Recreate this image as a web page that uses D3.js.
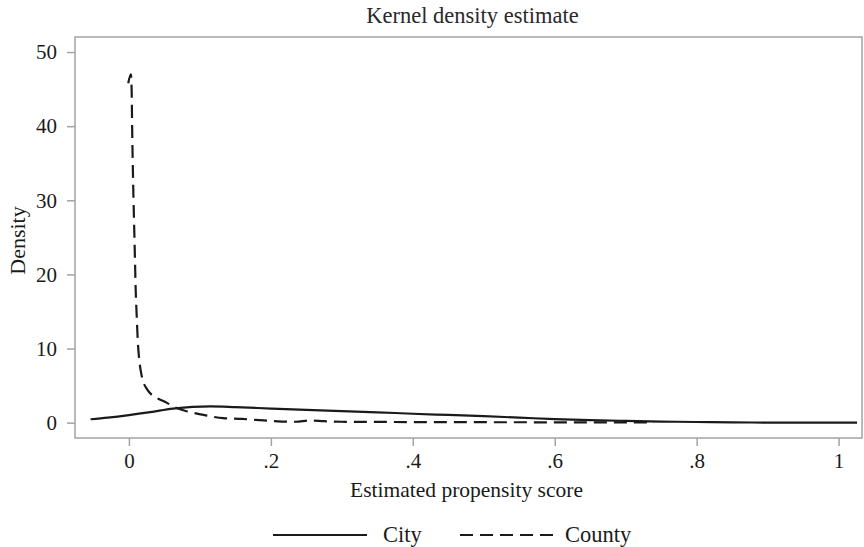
<!DOCTYPE html>
<html>
<head>
<meta charset="utf-8">
<script src="https://cdn.jsdelivr.net/npm/d3@7"></script>
<style>
  body { margin: 0; background: #fff; }
  svg { display: block; font-family: "Liberation Serif", "DejaVu Serif", serif; }
</style>
</head>
<body>
<svg id="chart" width="864" height="547"></svg>
<script>
// kernel density: [score, density]
var cityDensity = [
  [-0.054, 0.46], [-0.03, 0.68], [0.0, 1.02], [0.03, 1.42], [0.062, 1.9],
  [0.09, 2.14], [0.115, 2.2], [0.15, 2.1], [0.2, 1.9], [0.25, 1.72],
  [0.3, 1.56], [0.35, 1.4], [0.4, 1.2], [0.45, 1.04], [0.5, 0.87],
  [0.55, 0.68], [0.6, 0.48], [0.65, 0.33], [0.7, 0.24], [0.75, 0.15],
  [0.8, 0.09], [0.85, 0.04], [0.9, 0.01], [0.95, 0.0], [1.0, 0.0], [1.026, 0.0]
]
var countyDensity = [
  [-0.001, 45.8], [0.0028, 47.0], [0.0038, 45.0], [0.0045, 40], [0.006, 32],
  [0.0075, 26], [0.0085, 22], [0.0095, 18], [0.011, 14.3], [0.0125, 11],
  [0.0145, 8.5], [0.017, 6.8], [0.0202, 5.5], [0.025, 4.6], [0.0296, 4.0],
  [0.04, 3.3], [0.053, 2.7], [0.065, 2.05], [0.079, 1.6], [0.105, 1.05],
  [0.133, 0.6], [0.16, 0.5], [0.19, 0.3], [0.215, 0.15], [0.235, 0.12],
  [0.255, 0.3], [0.275, 0.2], [0.3, 0.12], [0.35, 0.1], [0.4, 0.08],
  [0.5, 0.06], [0.6, 0.05], [0.7, 0.05], [0.74, 0.05]
]
var xTicks = [0, 0.2, 0.4, 0.6, 0.8, 1]
var xTickLabels = ["0", ".2", ".4", ".6", ".8", "1"]
var yTicks = [0, 10, 20, 30, 40, 50]
var seriesNames = ["City", "County"]

var W = 864, H = 547,
    margin = {top: 37, right: 2, bottom: 109, left: 75},
    pw = W - margin.left - margin.right,
    ph = H - margin.top - margin.bottom,
    frameColor = "#a3a3a3",
    inkColor = "#1a1a1a",
    dashes = "13,7"

var svg = d3.select("#chart")
var g = svg.append("g").attr("transform", "translate(" + margin.left + "," + margin.top + ")")

var x = d3.scaleLinear().domain([-0.076, 1.033]).range([0, pw])
var y = d3.scaleLinear().domain([-2.07, 52.03]).range([ph, 0])

g.append("rect")
  .attr("width", pw).attr("height", ph)
  .attr("fill", "none")
  .attr("stroke", frameColor)
  .attr("stroke-width", 1.5)

var xAxis = g.append("g")
  .attr("transform", "translate(0," + ph + ")")
  .call(d3.axisBottom(x).tickValues(xTicks).tickSize(8).tickSizeOuter(0).tickPadding(7)
    .tickFormat(function(d, i){ return xTickLabels[i] }))
var yAxis = g.append("g")
  .call(d3.axisLeft(y).tickValues(yTicks).tickSize(8).tickSizeOuter(0).tickPadding(10))

;[xAxis, yAxis].forEach(function(a){
  a.select(".domain").remove()
  a.selectAll(".tick line").attr("stroke", frameColor).attr("stroke-width", 1.5)
  a.selectAll(".tick text")
    .attr("fill", inkColor)
    .style("font-family", "Liberation Serif")
    .style("font-size", "21px")
})

var line = d3.line()
  .curve(d3.curveMonotoneX)
  .x(function(d){ return x(d[0]) })
  .y(function(d){ return y(d[1]) })

g.append("path")
  .datum(cityDensity)
  .attr("d", line)
  .attr("fill", "none")
  .attr("stroke", inkColor)
  .attr("stroke-width", 2.2)

g.append("path")
  .datum(countyDensity)
  .attr("d", line)
  .attr("fill", "none")
  .attr("stroke", inkColor)
  .attr("stroke-width", 2.2)
  .attr("stroke-dasharray", dashes)

// titles
svg.append("text")
  .attr("x", margin.left + pw / 2 + 4)
  .attr("y", 23)
  .attr("text-anchor", "middle")
  .attr("fill", "#2a2a2a")
  .style("font-size", "22.5px")
  .text("Kernel density estimate")

svg.append("text")
  .attr("x", margin.left + pw / 2 - 2)
  .attr("y", 497)
  .attr("text-anchor", "middle")
  .attr("fill", inkColor)
  .style("font-size", "21.5px")
  .text("Estimated propensity score")

svg.append("text")
  .attr("transform", "translate(25," + (margin.top + ph / 2 + 3) + ") rotate(-90)")
  .attr("text-anchor", "middle")
  .attr("fill", inkColor)
  .style("font-size", "22px")
  .text("Density")

// legend
var legend = svg.append("g").attr("transform", "translate(273,535)")
var legendItems = legend.selectAll("g")
  .data(seriesNames)
  .enter().append("g")
  .attr("transform", function(d, i){ return "translate(" + (i * 187) + ",0)" })

legendItems.append("line")
  .attr("x1", 0).attr("x2", 94)
  .attr("stroke", inkColor)
  .attr("stroke-width", 2)
  .attr("stroke-dasharray", function(d, i){ return i == 1 ? dashes : null })

legendItems.append("text")
  .attr("x", function(d, i){ return i == 1 ? 105 : 110 })
  .attr("y", 7)
  .attr("fill", inkColor)
  .style("font-size", "22.5px")
  .text(function(d){ return d })
</script>
</body>
</html>
